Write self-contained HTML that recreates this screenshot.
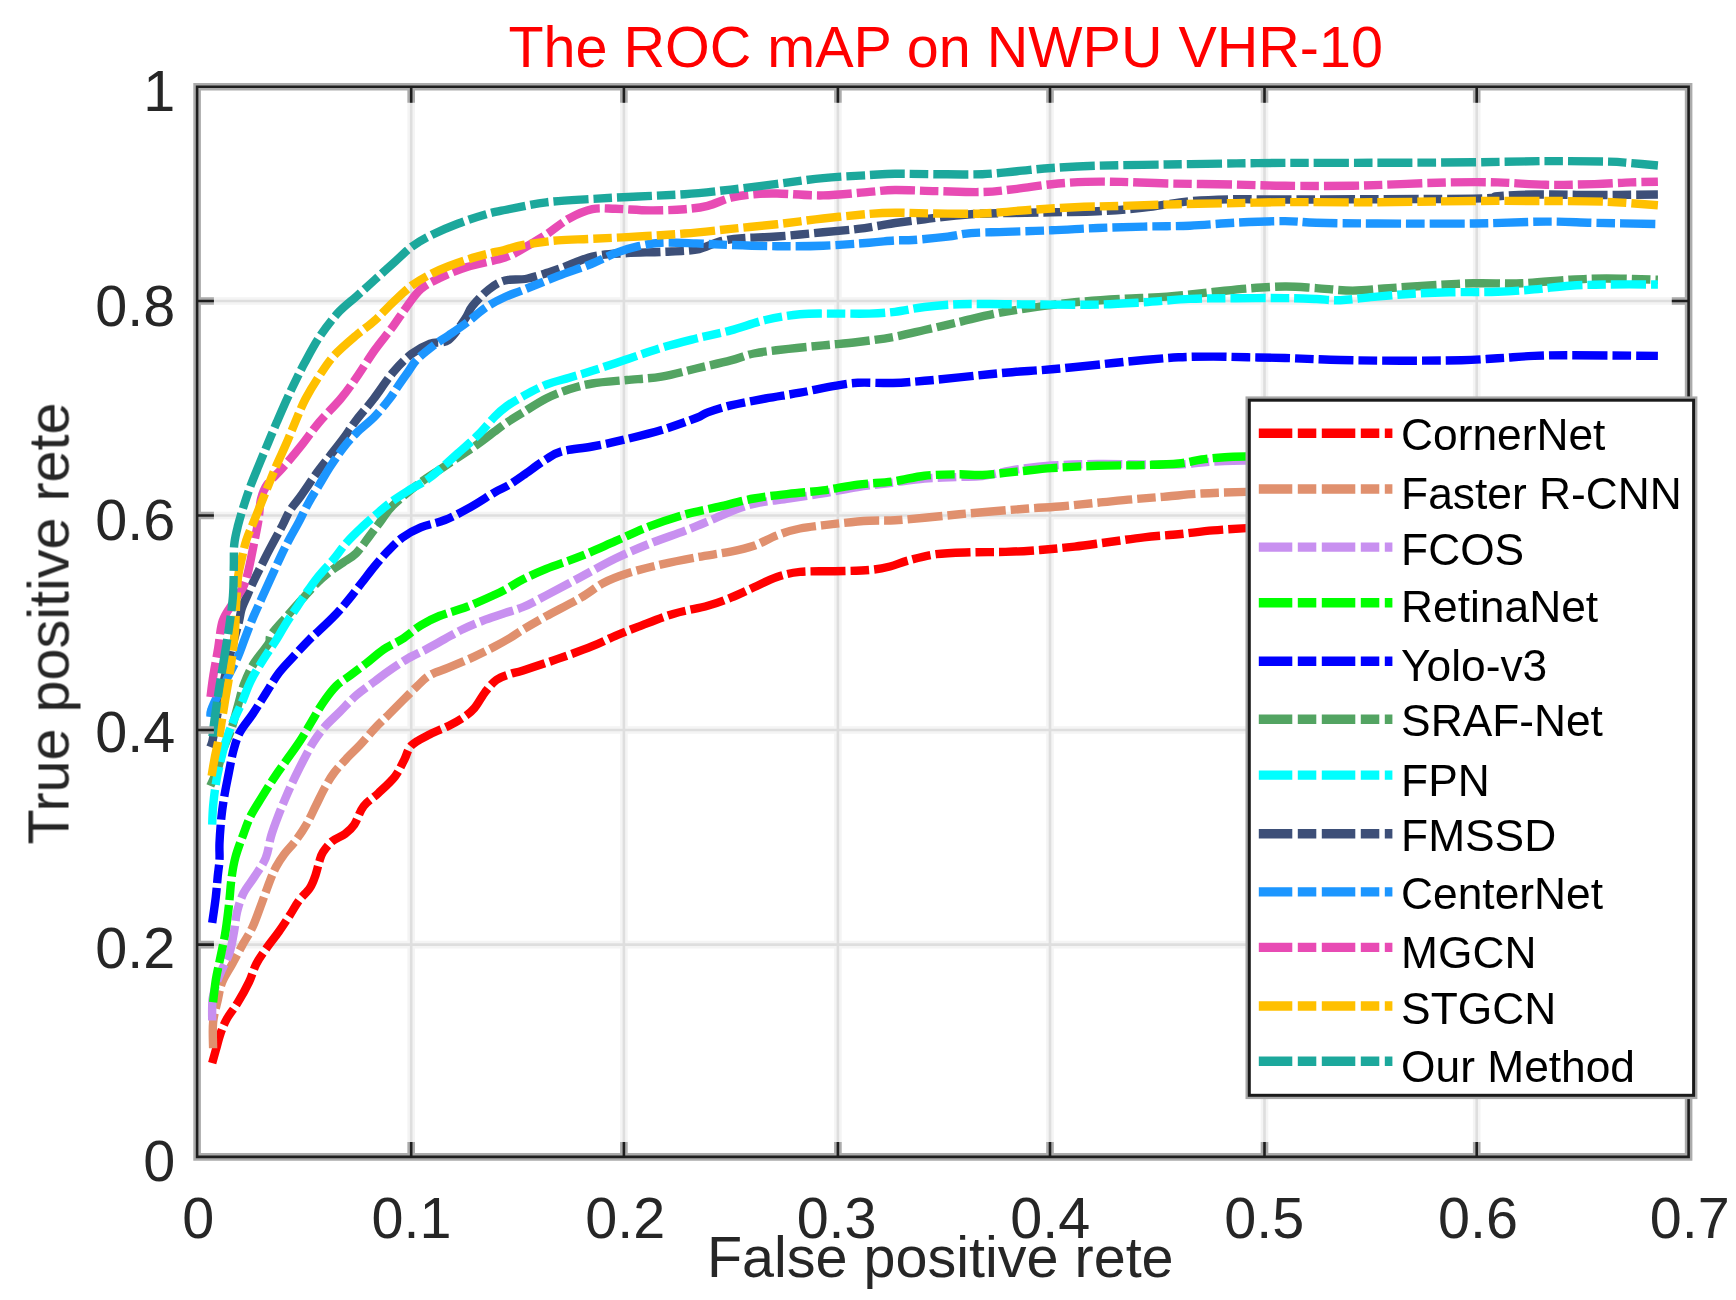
<!DOCTYPE html>
<html lang="en"><head><meta charset="utf-8"><title>The ROC mAP on NWPU VHR-10</title>
<style>html,body{margin:0;padding:0;background:#fff}body{width:1736px;height:1300px;overflow:hidden}svg{display:block}text{font-family:"Liberation Sans",sans-serif}</style>
</head><body>
<svg width="1736" height="1300" viewBox="0 0 1736 1300">
<rect x="0" y="0" width="1736" height="1300" fill="#ffffff"/>
<defs><filter id="soft" x="-2%" y="-2%" width="104%" height="104%" filterUnits="objectBoundingBox"><feGaussianBlur stdDeviation="0.7"/></filter></defs>
<g fill="none">
<path d="M411.2 86.7 V1156.9M623.9 86.7 V1156.9M837.9 86.7 V1156.9M1050.0 86.7 V1156.9M1264.5 86.7 V1156.9M1476.7 86.7 V1156.9M197.1 944.6 H1688.6M197.1 730.0 H1688.6M197.1 515.5 H1688.6M197.1 301.0 H1688.6" stroke="#f4f4f4" stroke-width="7.6"/>
<path d="M411.2 86.7 V1156.9M623.9 86.7 V1156.9M837.9 86.7 V1156.9M1050.0 86.7 V1156.9M1264.5 86.7 V1156.9M1476.7 86.7 V1156.9M197.1 944.6 H1688.6M197.1 730.0 H1688.6M197.1 515.5 H1688.6M197.1 301.0 H1688.6" stroke="#dedede" stroke-width="2.6"/>
</g>
<g fill="none" stroke-width="8.4" stroke-dasharray="35 5 18.5 5" stroke-linejoin="round" filter="url(#soft)">
<path d="M212.2 1063.1C212.8 1060.9 214.4 1055.1 215.8 1050.2C217.2 1045.3 218.7 1038.8 220.5 1033.6C222.3 1028.4 224.0 1024.0 226.9 1018.8C229.8 1013.6 234.3 1008.4 238.0 1002.2C241.7 996.1 246.0 988.4 249.1 981.9C252.2 975.4 253.4 969.2 256.5 963.4C259.6 957.5 263.8 952.0 267.5 946.8C271.2 941.6 274.9 937.2 278.6 932.0C282.3 926.8 286.3 920.6 289.7 915.4C293.1 910.2 295.5 905.2 298.9 900.6C302.3 896.0 307.2 892.0 310.0 887.7C312.8 883.4 314.1 879.1 315.6 874.8C317.1 870.5 318.0 865.8 319.2 862.0C320.4 858.2 320.7 855.8 322.9 852.3C325.1 848.8 328.5 844.3 332.2 841.2C335.9 838.1 341.4 836.7 345.1 833.9C348.8 831.1 351.2 829.2 354.3 824.6C357.4 820.0 359.6 811.4 363.6 806.2C367.6 801.0 373.1 798.1 378.3 793.2C383.5 788.3 390.6 782.1 394.9 776.6C399.2 771.1 401.4 765.2 404.2 760.0C407.0 754.8 407.3 749.5 411.6 745.2C415.9 740.9 423.9 737.4 430.0 734.2C436.1 731.0 442.9 728.7 448.5 725.9C454.1 723.1 459.0 720.4 463.3 717.5C467.6 714.6 470.6 712.6 474.3 708.3C478.0 704.0 481.7 696.5 485.4 691.7C489.1 687.0 492.4 682.8 496.5 679.8C500.6 676.8 505.6 675.6 510.0 674.0C514.4 672.4 515.1 672.9 523.1 670.4C531.1 667.9 546.2 662.9 557.7 658.9C569.2 654.9 582.7 650.1 592.3 646.2C601.9 642.4 607.7 639.1 615.4 635.8C623.1 632.5 628.9 630.2 638.5 626.6C648.1 623.0 661.6 617.4 673.1 613.9C684.6 610.4 698.1 608.5 707.7 605.8C717.3 603.1 723.1 600.8 730.8 597.7C738.5 594.6 746.2 590.8 753.9 587.3C761.6 583.8 769.3 579.6 777.0 577.0C784.7 574.4 790.4 572.9 800.0 571.9C809.6 570.9 823.2 571.5 834.7 571.2C846.2 570.9 860.1 570.8 869.3 570.0C878.5 569.2 883.5 568.1 890.0 566.5C896.5 564.9 900.8 562.4 908.5 560.4C916.2 558.4 925.8 555.6 936.2 554.2C946.6 552.9 959.3 552.7 970.8 552.3C982.3 551.9 993.9 552.3 1005.4 551.9C1016.9 551.5 1028.5 550.9 1040.0 550.0C1051.5 549.1 1063.2 547.9 1074.7 546.6C1086.2 545.3 1097.8 543.5 1109.3 542.0C1120.8 540.5 1132.4 538.6 1143.9 537.3C1155.4 536.0 1167.0 535.4 1178.5 534.3C1190.0 533.1 1201.8 531.4 1213.1 530.4C1224.4 529.4 1238.4 528.7 1246.6 528.1C1254.8 527.5 1259.4 527.2 1262.0 527.0" stroke="#ff0000"/>
<path d="M213.1 1048.3C213.1 1044.0 212.3 1030.5 213.1 1022.5C213.9 1014.5 216.2 1007.1 217.7 1000.3C219.2 993.5 219.8 988.0 222.3 981.9C224.8 975.8 229.0 969.9 232.5 963.4C236.0 956.9 240.1 949.2 243.5 943.1C246.9 937.0 249.7 933.3 252.8 926.5C255.9 919.7 259.2 909.8 262.0 902.4C264.8 895.0 267.1 888.1 269.4 882.2C271.7 876.3 273.5 871.7 276.0 867.0C278.5 862.3 281.0 858.5 284.2 854.2C287.4 849.9 291.5 846.1 295.2 841.2C298.9 836.3 302.9 830.4 306.3 824.6C309.7 818.8 312.5 812.4 315.6 806.2C318.7 800.1 321.7 793.2 324.8 787.7C327.9 782.2 330.3 777.8 334.0 772.9C337.7 768.0 342.6 762.8 346.9 758.2C351.2 753.6 355.3 750.1 359.9 745.2C364.5 740.3 369.7 733.8 374.6 728.6C379.5 723.4 384.8 718.5 389.4 713.9C394.0 709.3 397.7 705.5 402.3 700.9C406.9 696.3 412.5 690.5 417.1 686.2C421.7 681.9 424.8 678.2 430.0 675.1C435.2 672.0 441.1 670.8 448.5 667.7C455.9 664.6 466.6 660.1 474.3 656.6C482.0 653.1 488.8 649.6 494.7 646.5C500.6 643.4 505.3 640.8 510.0 638.0C514.7 635.2 517.1 633.1 523.1 629.5C529.1 625.9 536.6 621.5 546.2 616.2C555.8 610.9 571.2 603.3 580.8 597.7C590.4 592.1 596.2 586.7 603.9 582.7C611.6 578.7 617.3 576.6 626.9 573.5C636.5 570.4 650.0 567.0 661.6 564.3C673.2 561.6 684.7 559.4 696.2 557.3C707.7 555.2 721.2 553.5 730.8 551.6C740.4 549.7 746.2 548.5 753.9 545.8C761.6 543.1 769.3 538.3 777.0 535.4C784.7 532.5 790.4 530.4 800.0 528.5C809.6 526.6 823.2 525.2 834.7 523.9C846.2 522.6 859.2 521.4 869.3 520.8C879.3 520.2 885.8 520.8 895.0 520.3C904.2 519.8 913.9 518.7 924.6 517.7C935.3 516.7 947.7 515.4 959.2 514.3C970.8 513.2 982.4 512.3 993.9 511.3C1005.4 510.3 1017.0 509.4 1028.5 508.5C1040.0 507.6 1051.6 507.2 1063.1 506.2C1074.6 505.2 1086.2 503.8 1097.7 502.7C1109.2 501.6 1120.9 500.3 1132.4 499.3C1144.0 498.3 1155.5 497.5 1167.0 496.5C1178.5 495.5 1188.3 494.3 1201.6 493.5C1214.9 492.7 1236.5 492.2 1246.6 491.9C1256.7 491.6 1259.4 491.6 1262.0 491.5" stroke="#e0906e"/>
<path d="M212.2 1020.6C212.2 1017.2 211.9 1005.9 212.5 1000.0C213.1 994.1 214.5 989.9 216.0 985.0C217.5 980.1 219.1 976.2 221.4 970.8C223.7 965.3 227.5 959.1 229.7 952.3C231.8 945.5 233.1 937.0 234.3 930.2C235.5 923.4 235.6 917.9 237.1 911.7C238.6 905.5 240.6 899.1 243.5 893.2C246.4 887.4 250.9 882.5 254.6 876.6C258.3 870.7 262.9 864.8 265.7 858.0C268.5 851.2 269.2 842.5 271.2 835.7C273.2 828.9 275.2 823.7 277.7 817.2C280.2 810.7 283.1 803.7 286.0 796.9C288.9 790.1 292.1 783.0 295.2 776.6C298.3 770.2 301.4 764.0 304.5 758.2C307.6 752.4 310.3 746.8 313.7 741.6C317.1 736.4 320.5 731.7 324.8 726.8C329.1 721.9 334.4 717.2 339.6 712.0C344.8 706.8 350.4 700.5 356.2 695.4C362.0 690.3 369.1 685.6 374.6 681.5C380.1 677.4 383.8 674.3 389.4 670.5C394.9 666.7 401.8 662.0 407.9 658.5C414.0 655.0 420.1 652.5 426.3 649.2C432.5 646.0 438.6 642.4 444.8 639.0C451.0 635.6 456.5 632.2 463.3 629.0C470.1 625.8 478.4 622.4 485.4 619.7C492.3 617.0 498.7 615.1 505.0 613.0C511.3 610.9 516.2 609.9 523.1 607.0C530.0 604.1 536.6 600.4 546.2 595.4C555.8 590.4 569.3 583.1 580.8 577.0C592.3 570.9 603.9 564.1 615.4 558.5C626.9 552.9 638.5 548.1 650.0 543.5C661.5 538.9 675.1 534.5 684.7 530.8C694.3 527.1 700.0 524.7 707.7 521.5C715.4 518.3 723.1 514.5 730.8 511.5C738.5 508.6 744.3 506.0 753.9 503.8C763.5 501.6 777.0 500.2 788.5 498.5C800.0 496.8 811.6 495.3 823.1 493.4C834.6 491.5 846.6 488.7 857.8 487.0C868.9 485.3 878.9 484.4 890.0 483.0C901.1 481.6 913.1 479.5 924.6 478.5C936.1 477.5 949.6 477.4 959.2 477.0C968.8 476.6 972.7 477.2 982.3 476.0C991.9 474.8 1005.4 471.2 1016.9 469.5C1028.5 467.8 1038.1 466.4 1051.6 465.5C1065.1 464.6 1082.3 464.2 1097.7 464.0C1113.1 463.8 1130.4 464.4 1143.9 464.5C1157.4 464.6 1168.9 464.8 1178.5 464.5C1188.1 464.2 1193.9 463.1 1201.6 462.5C1209.3 461.9 1217.2 461.3 1224.7 461.0C1232.2 460.7 1240.4 460.6 1246.6 460.5C1252.8 460.4 1259.4 460.5 1262.0 460.5" stroke="#c890f0"/>
<path d="M213.1 1002.2C213.6 998.5 214.7 986.8 215.8 980.0C216.9 973.2 217.9 969.3 219.5 961.6C221.1 953.9 223.5 943.1 225.1 933.9C226.7 924.7 227.7 915.4 228.8 906.2C229.9 897.0 230.4 886.7 231.5 878.5C232.6 870.3 233.5 864.4 235.5 857.0C237.5 849.6 240.9 840.8 243.5 833.9C246.1 827.0 247.8 821.6 250.9 815.4C254.0 809.2 258.0 803.4 262.0 796.9C266.0 790.4 270.6 783.0 274.9 776.6C279.2 770.2 283.6 764.4 287.9 758.2C292.2 752.1 296.8 745.9 300.8 739.7C304.8 733.5 308.2 727.4 311.9 721.2C315.6 715.1 318.9 708.6 322.9 702.8C326.9 697.0 331.3 690.8 335.9 686.2C340.5 681.6 345.7 678.8 350.6 675.1C355.5 671.4 359.8 668.3 365.4 664.0C370.9 659.7 377.8 653.4 383.9 649.2C390.0 645.0 396.1 643.0 402.3 639.0C408.5 635.0 414.6 629.1 420.8 625.3C427.0 621.5 431.6 619.1 439.3 616.0C447.0 612.9 457.8 610.3 467.0 606.8C476.2 603.3 487.9 597.9 494.7 594.8C501.5 591.7 503.3 590.6 508.0 588.0C512.7 585.4 516.7 582.5 523.1 579.3C529.5 576.1 536.6 572.8 546.2 568.9C555.8 565.0 569.3 560.8 580.8 556.2C592.3 551.6 603.9 546.2 615.4 541.2C626.9 536.2 638.5 530.6 650.0 526.2C661.5 521.8 673.2 517.9 684.7 514.6C696.2 511.3 707.8 509.3 719.3 506.6C730.8 503.9 742.4 500.6 753.9 498.5C765.4 496.4 777.0 495.2 788.5 493.9C800.0 492.5 811.6 491.9 823.1 490.4C834.6 488.8 846.1 486.1 857.8 484.6C869.4 483.1 881.9 483.0 893.0 481.5C904.1 480.0 913.6 476.9 924.6 475.7C935.6 474.5 949.6 474.4 959.2 474.3C968.8 474.2 972.7 475.4 982.3 475.0C991.9 474.6 1005.4 472.8 1016.9 471.6C1028.5 470.5 1038.1 469.1 1051.6 468.1C1065.1 467.1 1082.3 466.3 1097.7 465.8C1113.1 465.3 1130.4 465.5 1143.9 465.1C1157.4 464.7 1168.9 464.4 1178.5 463.5C1188.1 462.6 1193.9 460.6 1201.6 459.5C1209.3 458.4 1217.2 457.7 1224.7 457.2C1232.2 456.7 1240.4 456.6 1246.6 456.5C1252.8 456.4 1259.4 456.5 1262.0 456.5" stroke="#00ff00"/>
<path d="M212.2 922.8C212.8 918.5 214.9 904.6 215.8 896.9C216.7 889.2 217.1 882.8 217.7 876.6C218.3 870.5 219.2 865.6 219.5 860.0C219.8 854.4 219.2 850.2 219.5 843.1C219.8 836.0 220.6 824.9 221.4 817.2C222.2 809.5 223.0 804.3 224.2 796.9C225.4 789.5 227.3 780.6 228.8 772.9C230.3 765.2 231.6 757.6 233.4 750.8C235.2 744.0 236.7 738.4 239.9 732.3C243.1 726.1 248.5 720.4 252.8 713.9C257.1 707.4 261.4 700.3 265.7 693.5C270.0 686.7 274.0 679.4 278.6 673.2C283.2 667.1 288.2 662.3 293.4 656.6C298.6 650.9 305.1 643.9 310.0 639.0C314.9 634.1 318.3 631.6 322.9 627.1C327.5 622.6 333.4 616.9 337.7 612.3C342.0 607.7 344.8 604.3 348.8 599.4C352.8 594.5 357.4 588.3 361.7 582.8C366.0 577.3 370.3 571.4 374.6 566.2C378.9 561.0 383.0 556.2 387.6 551.4C392.2 546.6 396.8 541.6 402.3 537.6C407.8 533.6 413.7 530.3 420.8 527.4C427.9 524.5 436.5 523.4 444.8 520.0C453.1 516.6 462.3 511.7 470.6 507.1C478.9 502.5 488.5 495.9 494.7 492.3C500.9 488.7 503.3 488.3 508.0 485.5C512.7 482.7 516.7 479.8 523.1 475.4C529.5 471.0 539.7 463.2 546.2 459.2C552.7 455.2 554.6 453.3 562.3 451.2C570.0 449.1 581.5 448.5 592.3 446.5C603.1 444.5 615.3 441.8 626.9 439.0C638.5 436.2 650.0 433.5 661.6 430.0C673.2 426.5 688.5 420.9 696.2 418.0C703.9 415.1 701.9 414.5 707.7 412.4C713.5 410.3 721.2 407.7 730.8 405.4C740.4 403.1 753.9 400.6 765.4 398.5C776.9 396.4 788.5 394.8 800.0 392.7C811.5 390.6 825.1 387.4 834.7 385.8C844.3 384.2 848.1 383.3 857.8 382.8C867.5 382.3 881.9 383.3 893.0 383.0C904.1 382.7 913.6 381.7 924.6 380.8C935.6 379.9 945.7 378.8 959.2 377.4C972.7 376.0 990.0 374.0 1005.4 372.7C1020.8 371.4 1036.2 370.6 1051.6 369.3C1067.0 368.0 1082.3 366.2 1097.7 364.7C1113.1 363.1 1130.4 361.2 1143.9 360.0C1157.4 358.8 1167.0 357.9 1178.5 357.3C1190.0 356.7 1201.5 356.6 1213.1 356.6C1224.6 356.6 1235.8 357.1 1247.8 357.3C1259.8 357.5 1269.5 357.6 1285.0 358.0C1300.5 358.4 1321.2 359.6 1340.5 360.0C1359.8 360.4 1380.8 360.7 1401.0 360.7C1421.2 360.7 1445.4 360.6 1461.5 360.2C1477.6 359.8 1485.6 359.0 1497.7 358.3C1509.8 357.6 1521.9 356.4 1534.0 355.9C1546.1 355.4 1549.6 355.2 1570.3 355.2C1591.0 355.2 1643.3 355.8 1657.9 355.9" stroke="#0000ff"/>
<path d="M210.3 785.9C211.5 783.1 215.6 775.2 217.7 769.2C219.8 763.2 220.7 756.8 223.0 750.0C225.3 743.2 229.0 736.2 231.5 728.6C234.0 721.0 236.1 712.0 238.2 704.6C240.3 697.2 241.4 691.1 244.0 684.3C246.6 677.5 249.4 670.8 253.5 664.0C257.6 657.2 265.6 648.6 268.5 643.7C271.4 638.8 268.0 639.3 271.2 634.5C274.4 629.7 282.7 621.1 287.9 615.1C293.1 609.1 297.6 604.0 302.6 598.5C307.6 593.0 313.1 586.8 318.0 582.0C322.9 577.2 328.0 573.1 332.2 569.9C336.4 566.6 339.2 565.3 343.2 562.5C347.2 559.7 351.9 557.5 356.2 553.2C360.5 548.9 365.1 541.8 369.1 536.6C373.1 531.4 376.2 527.1 380.2 521.9C384.2 516.7 386.3 511.8 393.1 505.2C399.9 498.6 412.5 488.5 420.8 482.2C429.1 475.9 433.8 473.6 443.0 467.4C452.2 461.2 467.6 451.2 476.2 445.2C484.8 439.2 489.6 435.2 494.7 431.4C499.8 427.6 502.3 425.7 507.0 422.5C511.7 419.3 516.6 416.4 523.1 412.4C529.6 408.4 538.5 402.4 546.2 398.5C553.9 394.6 561.5 391.8 569.2 389.3C576.9 386.8 582.7 385.1 592.3 383.5C601.9 381.9 615.3 381.1 626.9 380.0C638.5 378.9 650.0 378.5 661.6 376.6C673.2 374.7 684.7 371.2 696.2 368.5C707.7 365.8 721.2 362.9 730.8 360.4C740.4 357.9 744.3 355.4 753.9 353.5C763.5 351.6 777.0 350.2 788.5 348.9C800.0 347.5 811.6 346.5 823.1 345.4C834.6 344.2 846.1 343.4 857.8 342.0C869.4 340.6 881.9 339.0 893.0 337.0C904.1 335.0 913.6 332.5 924.6 330.0C935.6 327.5 947.7 324.7 959.2 322.0C970.8 319.3 982.4 316.2 993.9 313.9C1005.4 311.6 1015.0 310.0 1028.5 308.1C1042.0 306.2 1059.3 303.8 1074.7 302.3C1090.1 300.8 1105.4 299.8 1120.8 298.9C1136.2 297.9 1151.6 297.8 1167.0 296.6C1182.4 295.5 1199.6 293.4 1213.1 292.0C1226.6 290.6 1235.8 289.4 1247.8 288.5C1259.8 287.6 1273.6 286.6 1285.0 286.5C1296.4 286.4 1305.0 287.4 1316.3 288.1C1327.6 288.8 1340.5 290.6 1352.6 290.6C1364.7 290.6 1376.8 288.9 1388.9 288.1C1401.0 287.3 1411.1 286.5 1425.2 285.7C1439.3 284.9 1457.4 283.7 1473.5 283.3C1489.6 282.9 1505.8 283.9 1521.9 283.3C1538.0 282.7 1556.2 280.5 1570.3 279.7C1584.4 278.9 1592.0 278.5 1606.6 278.5C1621.2 278.5 1649.4 279.5 1657.9 279.7" stroke="#52a462"/>
<path d="M212.2 824.6C212.3 821.5 212.5 813.0 213.1 806.2C213.7 799.4 214.7 790.8 215.8 784.0C216.9 777.2 217.9 772.4 219.5 765.6C221.1 758.8 222.9 750.5 225.1 743.4C227.3 736.3 229.7 729.9 232.5 723.1C235.3 716.3 238.6 709.9 241.7 702.8C244.8 695.7 247.2 688.0 250.9 680.6C254.6 673.2 259.6 665.4 263.9 658.5C268.2 651.6 273.1 644.9 276.8 639.0C280.5 633.1 282.6 628.8 286.0 623.4C289.4 618.0 293.4 612.3 297.1 606.8C300.8 601.3 304.5 595.4 308.2 590.2C311.9 585.0 314.9 580.6 319.2 575.4C323.5 570.2 329.4 564.3 334.0 558.8C338.6 553.3 342.3 547.4 346.9 542.2C351.5 537.0 356.5 532.3 361.7 527.4C366.9 522.5 373.1 517.1 378.3 512.6C383.5 508.1 387.6 504.6 393.1 500.6C398.7 496.6 405.5 492.5 411.6 488.6C417.8 484.8 422.3 483.4 430.0 477.5C437.7 471.6 449.7 460.6 457.7 453.5C465.7 446.4 471.8 441.2 478.0 435.1C484.2 429.0 489.9 421.5 494.7 416.6C499.5 411.8 502.3 409.4 507.0 406.0C511.7 402.6 516.6 399.8 523.1 396.2C529.6 392.6 538.5 387.8 546.2 384.7C553.9 381.6 561.5 380.0 569.2 377.7C576.9 375.4 582.7 373.9 592.3 370.8C601.9 367.7 615.3 363.2 626.9 359.3C638.5 355.4 650.0 351.2 661.6 347.7C673.2 344.2 684.7 341.4 696.2 338.5C707.7 335.6 719.3 333.5 730.8 330.4C742.3 327.3 753.9 322.7 765.4 320.0C776.9 317.3 788.5 315.4 800.0 314.3C811.5 313.2 823.2 313.7 834.7 313.6C846.2 313.5 859.2 313.9 869.3 313.6C879.3 313.3 885.8 312.9 895.0 311.8C904.2 310.7 913.9 308.3 924.6 307.0C935.3 305.7 945.7 304.7 959.2 304.2C972.7 303.7 990.0 304.1 1005.4 304.2C1020.8 304.3 1036.2 304.5 1051.6 304.6C1067.0 304.7 1082.3 305.0 1097.7 304.6C1113.1 304.2 1128.5 303.2 1143.9 302.3C1159.3 301.4 1174.6 299.6 1190.0 298.9C1205.4 298.2 1220.4 298.3 1236.2 298.2C1252.0 298.1 1271.7 298.0 1285.0 298.1C1298.3 298.2 1307.0 298.6 1316.3 299.0C1325.5 299.4 1330.4 300.6 1340.5 300.2C1350.6 299.8 1364.7 297.7 1376.8 296.6C1388.9 295.5 1401.0 294.4 1413.1 293.7C1425.2 293.0 1435.3 292.6 1449.4 292.3C1463.5 292.0 1483.6 292.3 1497.7 291.8C1511.8 291.3 1521.9 290.4 1534.0 289.4C1546.1 288.4 1558.2 286.5 1570.3 285.7C1582.4 284.9 1592.0 284.7 1606.6 284.5C1621.2 284.3 1649.4 284.5 1657.9 284.5" stroke="#00ffff"/>
<path d="M210.3 747.0C210.7 746.0 211.6 745.2 212.5 741.0C213.4 736.8 214.4 730.5 216.0 722.0C217.6 713.5 219.7 701.2 222.0 690.0C224.3 678.8 227.2 666.4 230.0 655.0C232.8 643.6 237.0 629.3 238.9 621.6C240.8 613.9 240.3 612.9 241.7 608.6C243.1 604.3 245.0 600.6 247.2 595.7C249.3 590.8 252.1 584.3 254.6 579.1C257.1 573.9 259.5 569.2 262.0 564.3C264.5 559.4 266.0 556.0 269.4 549.6C272.8 543.2 278.9 532.1 282.3 525.6C285.7 519.1 286.6 515.7 289.7 510.8C292.8 505.9 296.2 502.5 300.8 496.0C305.4 489.5 312.5 478.8 317.4 472.0C322.3 465.2 326.0 460.9 330.3 455.4C334.6 449.9 338.9 444.6 343.2 438.8C347.5 433.0 351.1 426.9 356.2 420.3C361.2 413.7 367.4 407.0 373.5 399.0C379.6 391.0 386.8 379.8 393.1 372.3C399.5 364.8 405.5 358.7 411.6 353.9C417.8 349.1 423.9 346.0 430.0 343.7C436.1 341.4 442.6 344.1 448.5 340.0C454.4 335.9 461.1 324.5 465.1 318.8C469.1 313.1 468.5 310.8 472.5 305.9C476.5 301.0 483.7 293.4 489.1 289.2C494.5 285.0 498.6 282.3 505.0 280.5C511.4 278.7 518.9 280.4 527.7 278.5C536.5 276.6 546.9 272.9 557.7 269.3C568.5 265.7 580.8 259.3 592.3 256.6C603.8 253.9 615.3 253.9 626.9 253.1C638.5 252.3 650.0 252.5 661.6 251.9C673.2 251.3 686.6 251.3 696.2 249.6C705.8 247.9 711.6 243.5 719.3 241.6C727.0 239.7 732.8 238.9 742.4 238.1C752.0 237.2 763.5 237.5 777.0 236.5C790.5 235.5 809.6 233.6 823.1 232.3C836.6 231.0 848.2 230.1 857.8 228.9C867.4 227.8 874.7 226.4 880.9 225.4C887.1 224.4 887.7 224.0 895.0 223.0C902.3 222.0 912.0 220.8 924.6 219.3C937.2 217.8 949.6 215.4 970.8 214.2C992.0 213.0 1030.4 212.8 1051.6 212.3C1072.8 211.8 1082.3 212.0 1097.7 211.2C1113.1 210.4 1128.5 209.4 1143.9 207.7C1159.3 206.0 1174.6 202.6 1190.0 201.2C1205.4 199.8 1220.4 199.5 1236.2 199.2C1252.0 198.9 1245.5 199.6 1285.0 199.5C1324.5 199.4 1438.0 199.2 1473.5 198.6C1509.0 198.0 1487.6 196.9 1497.7 196.2C1507.8 195.5 1517.9 194.7 1534.0 194.5C1550.1 194.3 1573.8 195.0 1594.5 195.0C1615.2 195.0 1647.3 194.6 1657.9 194.5" stroke="#3d5078"/>
<path d="M210.5 717.0C210.6 715.9 209.9 713.9 211.2 710.2C212.4 706.5 215.2 700.5 218.0 695.0C220.8 689.5 224.6 683.3 227.9 676.9C231.2 670.5 235.1 663.2 238.0 656.6C240.9 650.0 242.8 643.8 245.4 637.0C248.0 630.2 250.9 622.6 253.7 616.0C256.5 609.4 259.1 604.1 262.0 597.6C264.9 591.1 268.1 584.1 271.2 577.3C274.3 570.5 277.4 563.4 280.5 556.9C283.6 550.4 286.6 544.3 289.7 538.5C292.8 532.7 295.8 527.8 298.9 521.9C302.0 516.0 304.8 509.6 308.2 503.4C311.6 497.2 315.5 491.0 319.2 484.9C322.9 478.8 326.3 472.6 330.3 466.5C334.3 460.4 338.9 453.6 343.2 448.0C347.5 442.4 351.0 438.4 356.2 433.2C361.4 428.0 369.1 422.3 374.6 416.6C380.1 410.9 385.4 404.2 389.4 399.0C393.4 393.8 395.5 389.8 398.6 385.3C401.7 380.8 404.9 376.3 408.0 372.0C411.1 367.7 412.8 363.8 417.1 359.4C421.4 355.0 428.5 349.5 433.7 345.5C438.9 341.5 442.9 339.2 448.5 335.4C454.1 331.6 460.9 327.1 467.0 322.5C473.1 317.9 479.1 311.9 485.4 307.7C491.7 303.4 498.7 299.9 505.0 297.0C511.3 294.1 514.3 293.5 523.1 290.0C531.9 286.5 546.2 280.6 557.7 276.2C569.2 271.8 582.7 267.4 592.3 263.5C601.9 259.6 607.7 256.0 615.4 253.1C623.1 250.2 630.8 247.9 638.5 246.2C646.2 244.5 652.0 243.2 661.6 242.7C671.2 242.2 684.7 243.0 696.2 243.4C707.7 243.8 717.3 244.5 730.8 245.0C744.3 245.5 761.6 246.1 777.0 246.2C792.4 246.3 807.7 246.3 823.1 245.7C838.5 245.1 857.3 243.6 869.3 242.7C881.3 241.8 887.7 240.8 895.0 240.4C902.3 240.0 904.3 240.6 913.1 240.0C921.9 239.4 938.1 237.8 947.7 236.6C957.3 235.4 961.2 233.9 970.8 233.1C980.4 232.3 991.9 232.4 1005.4 231.9C1018.9 231.4 1036.2 231.0 1051.6 230.3C1067.0 229.7 1082.3 228.6 1097.7 228.0C1113.1 227.4 1128.5 227.0 1143.9 226.6C1159.3 226.2 1174.6 226.3 1190.0 225.7C1205.4 225.0 1220.4 223.5 1236.2 222.7C1252.0 221.9 1271.7 221.1 1285.0 221.1C1298.3 221.1 1301.0 222.4 1316.3 222.8C1331.6 223.2 1350.6 223.4 1376.8 223.5C1403.0 223.6 1445.3 223.8 1473.5 223.5C1501.7 223.2 1525.9 221.7 1546.1 221.6C1566.3 221.5 1575.9 222.4 1594.5 222.8C1613.1 223.2 1647.3 223.8 1657.9 224.0" stroke="#1e96ff"/>
<path d="M210.5 697.0C211.0 693.2 212.2 682.6 213.5 674.5C214.8 666.4 216.6 657.5 218.1 648.6C219.6 639.7 220.2 628.5 222.7 620.9C225.2 613.3 229.7 608.4 233.0 603.0C236.3 597.6 240.2 592.9 242.6 588.3C245.0 583.7 245.8 580.3 247.2 575.4C248.6 570.5 249.7 564.6 250.9 558.8C252.1 552.9 253.3 546.8 254.6 540.3C255.9 533.8 257.4 526.9 258.5 520.0C259.6 513.1 259.5 505.0 261.0 499.0C262.5 493.0 263.9 489.1 267.5 484.0C271.1 478.9 276.8 474.6 282.3 468.3C287.9 462.0 294.7 453.9 300.8 446.2C306.9 438.5 312.6 430.1 319.2 422.2C325.8 414.3 334.3 406.4 340.5 399.0C346.7 391.6 350.5 386.0 356.2 377.9C361.9 369.8 368.5 358.8 374.6 350.2C380.8 341.6 387.9 333.3 393.1 326.2C398.3 319.1 401.4 313.9 406.0 307.7C410.6 301.5 415.2 294.1 420.8 289.2C426.4 284.3 431.6 281.9 439.3 278.2C447.0 274.5 456.1 270.6 467.0 267.1C477.9 263.7 495.6 260.6 505.0 257.5C514.4 254.4 516.2 252.3 523.1 248.5C530.0 244.7 538.5 239.6 546.2 234.6C553.9 229.6 561.5 222.7 569.2 218.5C576.9 214.3 584.6 210.8 592.3 209.2C600.0 207.6 605.8 208.6 615.4 208.8C625.0 209.0 638.5 210.3 650.0 210.4C661.5 210.5 675.1 210.0 684.7 209.2C694.3 208.4 700.0 207.7 707.7 205.8C715.4 203.9 723.1 199.6 730.8 197.7C738.5 195.8 746.2 194.9 753.9 194.2C761.6 193.5 765.5 193.3 777.0 193.5C788.5 193.7 807.7 195.7 823.1 195.4C838.5 195.1 857.3 192.8 869.3 191.9C881.3 191.0 883.9 190.1 895.0 190.0C906.1 189.9 921.7 190.8 936.2 191.1C950.8 191.4 968.8 192.4 982.3 192.0C995.8 191.6 1005.4 190.1 1016.9 188.8C1028.5 187.5 1040.0 185.3 1051.6 184.2C1063.1 183.0 1074.7 182.3 1086.2 181.9C1097.7 181.5 1107.3 181.6 1120.8 181.9C1134.3 182.2 1147.8 183.1 1167.0 183.5C1186.2 183.9 1216.5 184.2 1236.2 184.6C1255.9 185.0 1265.6 185.6 1285.0 185.8C1304.4 186.0 1333.3 186.1 1352.6 185.8C1371.9 185.5 1384.9 184.7 1401.0 184.1C1417.1 183.5 1433.3 182.7 1449.4 182.4C1465.5 182.1 1481.6 182.0 1497.7 182.4C1513.8 182.8 1530.0 184.5 1546.1 184.8C1562.2 185.1 1580.4 184.5 1594.5 184.1C1608.6 183.7 1620.2 182.8 1630.8 182.4C1641.4 182.0 1653.4 181.8 1657.9 181.7" stroke="#e84cb4"/>
<path d="M211.6 776.0C212.1 773.2 213.2 765.9 214.4 759.4C215.6 752.9 217.3 746.4 219.0 737.2C220.7 728.0 222.7 715.1 224.5 704.0C226.3 692.9 228.4 682.5 230.1 670.8C231.8 659.1 233.7 645.2 234.7 633.9C235.7 622.6 235.6 612.5 236.2 603.1C236.8 593.7 237.1 584.7 238.0 577.3C238.9 569.9 240.3 565.0 241.7 558.8C243.1 552.6 244.3 546.4 246.3 540.3C248.3 534.1 251.2 528.0 253.7 521.9C256.2 515.8 258.6 509.6 261.1 503.4C263.6 497.2 265.9 491.4 268.5 484.9C271.1 478.4 273.9 471.4 276.8 464.6C279.7 457.8 282.9 451.4 286.0 444.3C289.1 437.2 292.0 429.8 295.2 422.2C298.4 414.6 301.4 406.7 305.4 399.0C309.4 391.3 314.4 383.2 319.2 376.0C324.0 368.8 327.8 362.5 334.0 355.7C340.2 348.9 349.4 341.2 356.2 335.4C363.0 329.5 368.5 326.1 374.6 320.6C380.8 315.1 386.9 308.0 393.1 302.2C399.3 296.4 405.5 290.2 411.6 285.6C417.8 281.0 423.9 277.7 430.0 274.5C436.1 271.3 440.8 269.1 448.5 266.2C456.2 263.3 466.8 259.6 476.2 256.9C485.6 254.1 497.2 251.7 505.0 249.7C512.8 247.7 514.3 246.6 523.1 245.0C531.9 243.4 546.2 241.4 557.7 240.4C569.2 239.4 578.8 239.5 592.3 238.8C605.8 238.2 623.1 237.4 638.5 236.5C653.9 235.6 669.3 234.8 684.7 233.5C700.1 232.2 715.4 230.5 730.8 228.9C746.2 227.3 761.6 225.9 777.0 224.2C792.4 222.5 807.7 220.2 823.1 218.5C838.5 216.8 857.3 214.9 869.3 213.9C881.3 212.9 883.9 212.8 895.0 212.7C906.1 212.6 921.7 213.4 936.2 213.5C950.8 213.6 966.9 214.1 982.3 213.5C997.7 212.9 1013.1 211.1 1028.5 210.0C1043.9 208.9 1059.3 207.9 1074.7 207.2C1090.1 206.5 1103.5 206.4 1120.8 205.9C1138.1 205.4 1159.3 204.7 1178.5 204.2C1197.7 203.7 1218.5 203.4 1236.2 203.1C1254.0 202.8 1261.6 202.2 1285.0 202.1C1308.4 202.0 1345.4 202.5 1376.8 202.3C1408.2 202.1 1445.3 201.2 1473.5 201.0C1501.7 200.8 1523.9 200.9 1546.1 201.0C1568.3 201.1 1588.0 201.1 1606.6 201.8C1625.2 202.5 1649.4 204.6 1657.9 205.2" stroke="#ffc000"/>
<path d="M212.5 736.5C212.8 733.9 213.3 728.5 214.4 720.6C215.5 712.7 217.3 700.0 219.0 689.2C220.7 678.4 222.8 666.5 224.5 656.0C226.2 645.5 227.8 636.4 229.2 626.5C230.6 616.6 232.1 607.0 232.9 596.9C233.7 586.8 233.6 574.8 233.8 566.0C234.0 557.2 233.6 550.7 234.3 544.0C235.0 537.3 236.3 532.4 238.0 525.6C239.7 518.8 242.3 510.2 244.5 503.4C246.7 496.6 248.6 491.0 250.9 484.9C253.2 478.8 255.5 473.3 258.3 466.5C261.1 459.7 264.4 451.7 267.5 444.3C270.6 436.9 273.6 429.8 276.8 422.2C280.1 414.6 284.2 405.1 287.0 399.0C289.8 392.9 290.5 391.3 293.4 385.3C296.3 379.3 300.2 371.1 304.5 363.1C308.8 355.1 313.7 345.6 319.2 337.3C324.7 329.0 331.5 320.0 337.7 313.2C343.9 306.4 350.0 302.1 356.2 296.6C362.4 291.1 368.5 285.5 374.6 280.0C380.8 274.5 386.9 268.9 393.1 263.4C399.3 257.9 405.5 251.4 411.6 246.8C417.8 242.2 422.3 239.5 430.0 235.7C437.7 231.8 448.5 227.2 457.7 223.7C466.9 220.2 477.5 216.8 485.4 214.5C493.3 212.2 494.9 212.0 505.0 210.0C515.1 208.0 531.7 204.2 546.2 202.3C560.8 200.5 576.9 199.9 592.3 198.9C607.7 197.9 623.1 197.3 638.5 196.5C653.9 195.7 669.3 195.3 684.7 194.2C700.1 193.0 715.4 191.3 730.8 189.6C746.2 187.9 761.6 185.8 777.0 183.9C792.4 182.0 807.7 179.6 823.1 178.1C838.5 176.6 857.3 175.8 869.3 175.1C881.3 174.4 883.9 174.0 895.0 173.8C906.1 173.7 921.7 174.1 936.2 174.2C950.8 174.3 968.8 174.7 982.3 174.2C995.8 173.7 1005.4 172.2 1016.9 171.2C1028.5 170.2 1038.1 168.9 1051.6 168.0C1065.1 167.1 1078.5 166.3 1097.7 165.7C1116.9 165.1 1143.9 164.9 1167.0 164.5C1190.1 164.1 1216.5 163.7 1236.2 163.4C1255.9 163.1 1261.6 163.0 1285.0 162.9C1308.4 162.8 1345.4 162.9 1376.8 162.8C1408.2 162.7 1445.3 162.6 1473.5 162.3C1501.7 162.0 1523.9 161.2 1546.1 161.1C1568.3 161.0 1592.5 161.3 1606.6 161.6C1620.7 161.9 1622.2 162.4 1630.8 163.1C1639.3 163.8 1653.4 165.1 1657.9 165.5" stroke="#1fa89c"/>
</g>
<g fill="none">
<path d="M411.2 1156.9 V1141.9M411.2 86.7 V102.7M623.9 1156.9 V1141.9M623.9 86.7 V102.7M837.9 1156.9 V1141.9M837.9 86.7 V102.7M1050.0 1156.9 V1141.9M1050.0 86.7 V102.7M1264.5 1156.9 V1141.9M1264.5 86.7 V102.7M1476.7 1156.9 V1141.9M1476.7 86.7 V102.7M197.1 944.6 H213.9M1688.6 944.6 H1671.8M197.1 730.0 H213.9M1688.6 730.0 H1671.8M197.1 515.5 H213.9M1688.6 515.5 H1671.8M197.1 301.0 H213.9M1688.6 301.0 H1671.8" stroke="#ababab" stroke-width="7.6"/>
<path d="M197.1 86.7 H1688.6 V1156.9 H197.1 Z" stroke="#ababab" stroke-width="7.6" stroke-linejoin="miter"/>
<path d="M411.2 1156.9 V1141.9M411.2 86.7 V102.7M623.9 1156.9 V1141.9M623.9 86.7 V102.7M837.9 1156.9 V1141.9M837.9 86.7 V102.7M1050.0 1156.9 V1141.9M1050.0 86.7 V102.7M1264.5 1156.9 V1141.9M1264.5 86.7 V102.7M1476.7 1156.9 V1141.9M1476.7 86.7 V102.7M197.1 944.6 H213.9M1688.6 944.6 H1671.8M197.1 730.0 H213.9M1688.6 730.0 H1671.8M197.1 515.5 H213.9M1688.6 515.5 H1671.8M197.1 301.0 H213.9M1688.6 301.0 H1671.8" stroke="#1e1e1e" stroke-width="2.6"/>
<path d="M197.1 86.7 H1688.6 V1156.9 H197.1 Z" stroke="#1e1e1e" stroke-width="2.6" stroke-linejoin="miter"/>
</g>
<rect x="1249.3" y="400.2" width="444.3" height="695.1" fill="#ffffff" stroke="#a8a8a8" stroke-width="7.6"/>
<rect x="1249.3" y="400.2" width="444.3" height="695.1" fill="#ffffff" stroke="#1a1a1a" stroke-width="3"/>
<g fill="none" stroke-width="9.4" stroke-dasharray="33.5 5.5 18.5 5.5" filter="url(#soft)">
<path d="M1258.8 433.3 H1392.4" stroke="#ff0000"/>
<path d="M1258.8 489.0 H1392.4" stroke="#e0906e"/>
<path d="M1258.8 547.1 H1392.4" stroke="#c890f0"/>
<path d="M1258.8 602.8 H1392.4" stroke="#00ff00"/>
<path d="M1258.8 661.2 H1392.4" stroke="#0000ff"/>
<path d="M1258.8 719.3 H1392.4" stroke="#52a462"/>
<path d="M1258.8 775.1 H1392.4" stroke="#00ffff"/>
<path d="M1258.8 833.8 H1392.4" stroke="#3d5078"/>
<path d="M1258.8 891.9 H1392.4" stroke="#1e96ff"/>
<path d="M1258.8 947.4 H1392.4" stroke="#e84cb4"/>
<path d="M1258.8 1006.0 H1392.4" stroke="#ffc000"/>
<path d="M1258.8 1061.2 H1392.4" stroke="#1fa89c"/>
</g>
<g font-size="44.3" fill="#000000" filter="url(#soft)">
<text x="1401.1" y="450.2">CornerNet</text>
<text x="1401.1" y="508.6">Faster R-CNN</text>
<text x="1401.1" y="564.6">FCOS</text>
<text x="1401.1" y="622.4">RetinaNet</text>
<text x="1401.1" y="680.8">Yolo-v3</text>
<text x="1401.1" y="736.3">SRAF-Net</text>
<text x="1401.1" y="795.6">FPN</text>
<text x="1401.1" y="851.3">FMSSD</text>
<text x="1401.1" y="909.4">CenterNet</text>
<text x="1401.1" y="967.8">MGCN</text>
<text x="1401.1" y="1023.5">STGCN</text>
<text x="1401.1" y="1081.6">Our Method</text>
</g>
<g font-size="57.5" fill="#262626" filter="url(#soft)">
<text x="198.3" y="1237.8" text-anchor="middle">0</text>
<text x="411.5" y="1237.8" text-anchor="middle">0.1</text>
<text x="625.3" y="1237.8" text-anchor="middle">0.2</text>
<text x="836.6" y="1237.8" text-anchor="middle">0.3</text>
<text x="1050.3" y="1237.8" text-anchor="middle">0.4</text>
<text x="1264.3" y="1237.8" text-anchor="middle">0.5</text>
<text x="1478.0" y="1237.8" text-anchor="middle">0.6</text>
<text x="1689.8" y="1237.8" text-anchor="middle">0.7</text>
<text x="175.2" y="1180.9" text-anchor="end">0</text>
<text x="175.2" y="968.3" text-anchor="end">0.2</text>
<text x="175.2" y="752.2" text-anchor="end">0.4</text>
<text x="175.2" y="540.4" text-anchor="end">0.6</text>
<text x="175.2" y="325.8" text-anchor="end">0.8</text>
<text x="175.2" y="111.3" text-anchor="end">1</text>
<text x="940.3" y="1276.6" text-anchor="middle">False positive rete</text>
<text transform="translate(68.5 623.5) rotate(-90)" text-anchor="middle">True positive rete</text>
</g>
<text x="945.7" y="66.9" text-anchor="middle" font-size="57.5" fill="#ff0000" filter="url(#soft)">The ROC mAP on NWPU VHR-10</text>
</svg></body></html>
